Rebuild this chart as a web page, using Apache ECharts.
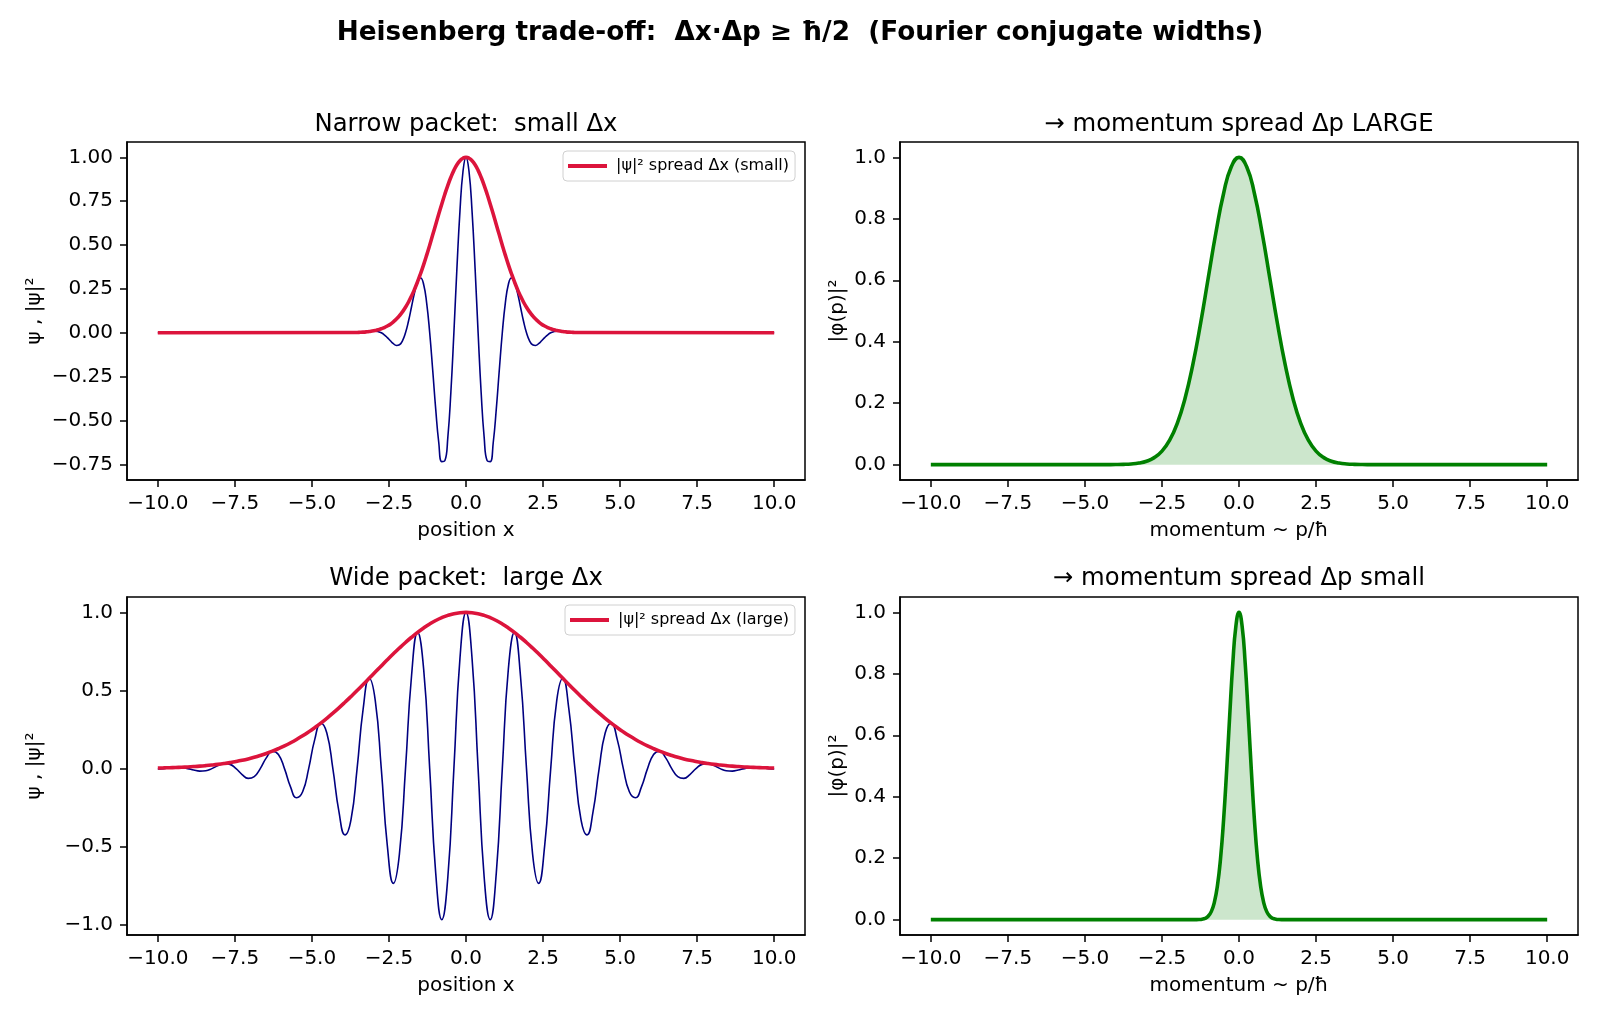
<!DOCTYPE html>
<html>
<head>
<meta charset="utf-8">
<title>Heisenberg trade-off</title>
<script src="https://cdn.jsdelivr.net/npm/echarts@6/dist/echarts.min.js"></script>
<style>
  html, body { margin: 0; padding: 0; background: #ffffff; }
  #main { width: 1600px; height: 1018px; }
</style>
</head>
<body>
<div id="main"></div>
<script>
// narrow packet (top left): positions, wave, envelope
var narrowX = [
  -10, -3.534, -3.436, -3.338, -3.240, -3.142, -3.043, -2.945, -2.847, -2.749,
  -2.651, -2.553, -2.454, -2.356, -2.258, -2.160, -2.062, -1.963, -1.865, -1.767,
  -1.669, -1.571, -1.473, -1.374, -1.276, -1.178, -1.080, -0.982, -0.884, -0.785,
  -0.687, -0.589, -0.491, -0.393, -0.295, -0.196, -0.098, 0, 0.098, 0.196,
  0.295, 0.393, 0.491, 0.589, 0.687, 0.785, 0.884, 0.982, 1.080, 1.178,
  1.276, 1.374, 1.473, 1.571, 1.669, 1.767, 1.865, 1.963, 2.062, 2.160,
  2.258, 2.356, 2.454, 2.553, 2.651, 2.749, 2.847, 2.945, 3.043, 3.142,
  3.240, 3.338, 3.436, 3.534, 10
];
var narrowWave = [
  0, 0, 0.0010, 0.0027, 0.0049, 0.0072, 0.0090, 0.0092, 0.0066, 0,
  -0.0114, -0.0272, -0.0455, -0.0623, -0.0722, -0.0686, -0.0457, 0, 0.0672, 0.1484,
  0.2295, 0.2912, 0.3124, 0.2750, 0.1695, 0, -0.2136, -0.4367, -0.6253, -0.7346,
  -0.7296, -0.5945, -0.3392, 0, 0.3664, 0.6936, 0.9194, 1, 0.9194, 0.6936,
  0.3664, 0, -0.3392, -0.5945, -0.7296, -0.7346, -0.6253, -0.4367, -0.2136, 0,
  0.1695, 0.2750, 0.3124, 0.2912, 0.2295, 0.1484, 0.0672, 0, -0.0457, -0.0686,
  -0.0722, -0.0623, -0.0455, -0.0272, -0.0114, 0, 0.0066, 0.0092, 0.0090, 0.0072,
  0.0049, 0.0027, 0.0010, 0, 0
];
var narrowEnv = [
  0, 0.0019, 0.0027, 0.0038, 0.0053, 0.0072, 0.0097, 0.0131, 0.0174, 0.0229,
  0.0298, 0.0385, 0.0492, 0.0623, 0.0781, 0.0971, 0.1194, 0.1455, 0.1756, 0.2098,
  0.2484, 0.2912, 0.3381, 0.3889, 0.4429, 0.4996, 0.5582, 0.6176, 0.6768, 0.7346,
  0.7897, 0.8407, 0.8865, 0.9258, 0.9576, 0.9809, 0.9952, 1, 0.9952, 0.9809,
  0.9576, 0.9258, 0.8865, 0.8407, 0.7897, 0.7346, 0.6768, 0.6176, 0.5582, 0.4996,
  0.4429, 0.3889, 0.3381, 0.2912, 0.2484, 0.2098, 0.1756, 0.1455, 0.1194, 0.0971,
  0.0781, 0.0623, 0.0492, 0.0385, 0.0298, 0.0229, 0.0174, 0.0131, 0.0097, 0.0072,
  0.0053, 0.0038, 0.0027, 0.0019, 0
];

// wide packet (bottom left): positions, wave, envelope
var wideX = [
  -10, -9.817, -9.621, -9.425, -9.228, -9.032, -8.836, -8.639, -8.443, -8.247,
  -8.050, -7.854, -7.658, -7.461, -7.265, -7.069, -6.872, -6.676, -6.480, -6.283,
  -6.087, -5.890, -5.694, -5.498, -5.301, -5.105, -4.909, -4.712, -4.516, -4.320,
  -4.123, -3.927, -3.731, -3.534, -3.338, -3.142, -2.945, -2.749, -2.553, -2.356,
  -2.160, -1.963, -1.767, -1.571, -1.374, -1.178, -0.982, -0.785, -0.589, -0.393,
  -0.196, 0, 0.196, 0.393, 0.589, 0.785, 0.982, 1.178, 1.374, 1.571,
  1.767, 1.963, 2.160, 2.356, 2.553, 2.749, 2.945, 3.142, 3.338, 3.534,
  3.731, 3.927, 4.123, 4.320, 4.516, 4.712, 4.909, 5.105, 5.301, 5.498,
  5.694, 5.890, 6.087, 6.283, 6.480, 6.676, 6.872, 7.069, 7.265, 7.461,
  7.658, 7.854, 8.050, 8.247, 8.443, 8.639, 8.836, 9.032, 9.228, 9.425,
  9.621, 9.817, 10
];
var wideWave = [
  -0.0026, 0, 0.0041, 0.0072, 0.0062, 0, -0.0092, -0.0158, -0.0135, 0,
  0.0193, 0.0325, 0.0272, 0, -0.0377, -0.0623, -0.0513, 0, 0.0686, 0.1116,
  0.0903, 0, -0.1168, -0.1865, -0.1484, 0, 0.1854, 0.2912, 0.2277, 0,
  -0.2750, -0.4245, -0.3264, 0, 0.3808, 0.5779, 0.4367, 0, -0.4924, -0.7346,
  -0.5457, 0, 0.5945, 0.8719, 0.6367, 0, -0.6702, -0.9663, -0.6936, 0,
  0.7056, 1, 0.7056, 0, -0.6936, -0.9663, -0.6702, 0, 0.6367, 0.8719,
  0.5945, 0, -0.5457, -0.7346, -0.4924, 0, 0.4367, 0.5779, 0.3808, 0,
  -0.3264, -0.4245, -0.2750, 0, 0.2277, 0.2912, 0.1854, 0, -0.1484, -0.1865,
  -0.1168, 0, 0.0903, 0.1116, 0.0686, 0, -0.0513, -0.0623, -0.0377, 0,
  0.0272, 0.0325, 0.0193, 0, -0.0135, -0.0158, -0.0092, 0, 0.0062, 0.0072,
  0.0041, 0, -0.0026
];
var wideEnv = [
  0.0039, 0.0047, 0.0058, 0.0072, 0.0088, 0.0108, 0.0131, 0.0158, 0.0191, 0.0229,
  0.0273, 0.0325, 0.0385, 0.0454, 0.0533, 0.0623, 0.0725, 0.0841, 0.0971, 0.1116,
  0.1277, 0.1455, 0.1651, 0.1865, 0.2099, 0.2351, 0.2622, 0.2912, 0.3221, 0.3546,
  0.3888, 0.4245, 0.4615, 0.4996, 0.5385, 0.5779, 0.6176, 0.6572, 0.6963, 0.7346,
  0.7717, 0.8072, 0.8407, 0.8719, 0.9004, 0.9258, 0.9479, 0.9663, 0.9809, 0.9915,
  0.9979, 1, 0.9979, 0.9915, 0.9809, 0.9663, 0.9479, 0.9258, 0.9004, 0.8719,
  0.8407, 0.8072, 0.7717, 0.7346, 0.6963, 0.6572, 0.6176, 0.5779, 0.5385, 0.4996,
  0.4615, 0.4245, 0.3888, 0.3546, 0.3221, 0.2912, 0.2622, 0.2351, 0.2099, 0.1865,
  0.1651, 0.1455, 0.1277, 0.1116, 0.0971, 0.0841, 0.0725, 0.0623, 0.0533, 0.0454,
  0.0385, 0.0325, 0.0273, 0.0229, 0.0191, 0.0158, 0.0131, 0.0108, 0.0088, 0.0072,
  0.0058, 0.0047, 0.0039
];

// momentum distributions (right panels)
var pBroadX = [-10, -4.5, -4.25, -4, -3.75, -3.5, -3.25, -3, -2.75, -2.5, -2.25, -2, -1.75, -1.5, -1.25, -1, -0.75, -0.5, -0.25,
  0, 0.25, 0.5, 0.75, 1, 1.25, 1.5, 1.75, 2, 2.25, 2.5, 2.75, 3, 3.25, 3.5, 3.75, 4, 4.25, 4.5, 10];
var pBroadY = [0, 0, 0.0001, 0.0003, 0.0009, 0.0022, 0.0051, 0.0111, 0.0228, 0.0439, 0.0796, 0.1353, 0.2163, 0.3247, 0.4578, 0.6065, 0.7548, 0.8825, 0.9692,
  1, 0.9692, 0.8825, 0.7548, 0.6065, 0.4578, 0.3247, 0.2163, 0.1353, 0.0796, 0.0439, 0.0228, 0.0111, 0.0051, 0.0022, 0.0009, 0.0003, 0.0001, 0, 0];
var pSharpX = [-10, -1.5, -1.4, -1.3, -1.2, -1.1, -1, -0.9, -0.8, -0.7, -0.6, -0.5, -0.4, -0.3, -0.2, -0.1,
  0, 0.1, 0.2, 0.3, 0.4, 0.5, 0.6, 0.7, 0.8, 0.9, 1, 1.1, 1.2, 1.3, 1.4, 1.5, 10];
var pSharpY = [0, 0, 0.0001, 0.0005, 0.0015, 0.0043, 0.0111, 0.0261, 0.0561, 0.1103, 0.1979, 0.3247, 0.4868, 0.6670, 0.8353, 0.9560,
  1, 0.9560, 0.8353, 0.6670, 0.4868, 0.3247, 0.1979, 0.1103, 0.0561, 0.0261, 0.0111, 0.0043, 0.0015, 0.0005, 0.0001, 0, 0];

// tick labels
var xTicks = [-10, -7.5, -5, -2.5, 0, 2.5, 5, 7.5, 10];
var narrowTicks = [-0.75, -0.5, -0.25, 0, 0.25, 0.5, 0.75, 1];
var wideTicks = [-1, -0.5, 0, 0.5, 1];
var probTicks = [0, 0.2, 0.4, 0.6, 0.8, 1];

var FONT = 'DejaVu Sans';

function pair(xs, ys) {
  return xs.map(function (x, i) { return [x, ys[i]]; });
}

function fmt(dec) {
  return function (v) {
    return (v < 0 ? '\u2212' : '') + Math.abs(v).toFixed(dec);
  };
}

function xAxisFor(gi, name) {
  return {
    type: 'value', gridIndex: gi, min: -11, max: 11,
    name: name, nameLocation: 'middle', nameGap: 41,
    nameTextStyle: { fontFamily: FONT, fontSize: 20, color: '#000' },
    axisLine: { show: true, onZero: false, lineStyle: { color: '#000', width: 1.5 } },
    axisTick: { show: true, length: 7, customValues: xTicks, lineStyle: { color: '#000', width: 1.5 } },
    axisLabel: { customValues: xTicks, formatter: fmt(1), margin: 14, fontFamily: FONT, fontSize: 20, color: '#000' },
    splitLine: { show: false }
  };
}

function yAxisFor(gi, name, min, max, ticks, dec, gap) {
  return {
    type: 'value', gridIndex: gi, min: min, max: max,
    name: name, nameLocation: 'middle', nameGap: gap,
    nameTextStyle: { fontFamily: FONT, fontSize: 20, color: '#000' },
    axisLine: { show: true, onZero: false, lineStyle: { color: '#000', width: 1.5 } },
    axisTick: { show: true, length: 7, customValues: ticks, lineStyle: { color: '#000', width: 1.5 } },
    axisLabel: { customValues: ticks, formatter: fmt(dec), margin: 14, fontFamily: FONT, fontSize: 20, color: '#000' },
    splitLine: { show: false }
  };
}

function gridAt(left, top) {
  return { left: left, top: top, width: 678, height: 338, show: true, borderColor: '#000', borderWidth: 1.5 };
}

function subTitle(text, cx, top) {
  return { text: text, left: cx, top: top, textAlign: 'center', padding: 0,
    textStyle: { fontFamily: FONT, fontSize: 24.3, fontWeight: 'normal', color: '#000' } };
}

function legendAt(name, left, top) {
  return {
    data: [{ name: name, icon: 'rect' }], left: left, top: top, orient: 'vertical',
    itemWidth: 39, itemHeight: 4, padding: [7, 6, 7, 5],
    backgroundColor: 'rgba(255,255,255,0.8)', borderColor: '#d0d0d0', borderWidth: 1, borderRadius: 4,
    textStyle: { fontFamily: FONT, fontSize: 16, color: '#000', padding: [0, 0, 0, 4] }
  };
}

var chart = echarts.init(document.getElementById('main'), null, { renderer: 'canvas' });

var smallName = '|ψ|² spread Δx (small)';
var largeName = '|ψ|² spread Δx (large)';

var option = {
  backgroundColor: '#ffffff',
  animation: false,
  title: [
    { text: 'Heisenberg trade-off:  Δx·Δp ≥ ħ/2  (Fourier conjugate widths)', left: 'center', top: 20, padding: 0,
      textStyle: { fontFamily: FONT, fontSize: 26.3, fontWeight: 'bold', color: '#000' } },
    subTitle('Narrow packet:  small Δx', 466, 113),
    subTitle('→ momentum spread Δp LARGE', 1239, 113),
    subTitle('Wide packet:  large Δx', 466, 567),
    subTitle('→ momentum spread Δp small', 1239, 567)
  ],
  legend: [
    legendAt(smallName, 563, 151),
    legendAt(largeName, 565, 605)
  ],
  grid: [
    gridAt(127, 142),
    gridAt(900, 142),
    gridAt(127, 597),
    gridAt(900, 597)
  ],
  xAxis: [
    xAxisFor(0, 'position x'),
    xAxisFor(1, 'momentum ~ p/ħ'),
    xAxisFor(2, 'position x'),
    xAxisFor(3, 'momentum ~ p/ħ')
  ],
  yAxis: [
    yAxisFor(0, 'ψ , |ψ|²', -0.8392, 1.0876, narrowTicks, 2, 82),
    yAxisFor(1, '|φ(p)|²', -0.05, 1.05, probTicks, 1, 52),
    yAxisFor(2, 'ψ , |ψ|²', -1.0648, 1.0983, wideTicks, 1, 82),
    yAxisFor(3, '|φ(p)|²', -0.05, 1.05, probTicks, 1, 52)
  ],
  series: [
    { name: 'ψ narrow', type: 'line', xAxisIndex: 0, yAxisIndex: 0, data: pair(narrowX, narrowWave),
      smooth: true, symbol: 'none', lineStyle: { color: '#000080', width: 1.6 }, itemStyle: { color: '#000080' } },
    { name: smallName, type: 'line', xAxisIndex: 0, yAxisIndex: 0, data: pair(narrowX, narrowEnv),
      smooth: true, symbol: 'none', lineStyle: { color: '#DC143C', width: 3.6 }, itemStyle: { color: '#DC143C' } },
    { name: 'φ broad', type: 'line', xAxisIndex: 1, yAxisIndex: 1, data: pair(pBroadX, pBroadY),
      smooth: true, symbol: 'none', lineStyle: { color: '#008000', width: 3.6 }, itemStyle: { color: '#008000' },
      areaStyle: { color: 'rgba(0,128,0,0.2)', opacity: 1 } },
    { name: 'ψ wide', type: 'line', xAxisIndex: 2, yAxisIndex: 2, data: pair(wideX, wideWave),
      smooth: true, symbol: 'none', lineStyle: { color: '#000080', width: 1.6 }, itemStyle: { color: '#000080' } },
    { name: largeName, type: 'line', xAxisIndex: 2, yAxisIndex: 2, data: pair(wideX, wideEnv),
      smooth: true, symbol: 'none', lineStyle: { color: '#DC143C', width: 3.6 }, itemStyle: { color: '#DC143C' } },
    { name: 'φ sharp', type: 'line', xAxisIndex: 3, yAxisIndex: 3, data: pair(pSharpX, pSharpY),
      smooth: true, symbol: 'none', lineStyle: { color: '#008000', width: 3.6 }, itemStyle: { color: '#008000' },
      areaStyle: { color: 'rgba(0,128,0,0.2)', opacity: 1 } }
  ]
};

chart.setOption(option);
</script>
</body>
</html>
